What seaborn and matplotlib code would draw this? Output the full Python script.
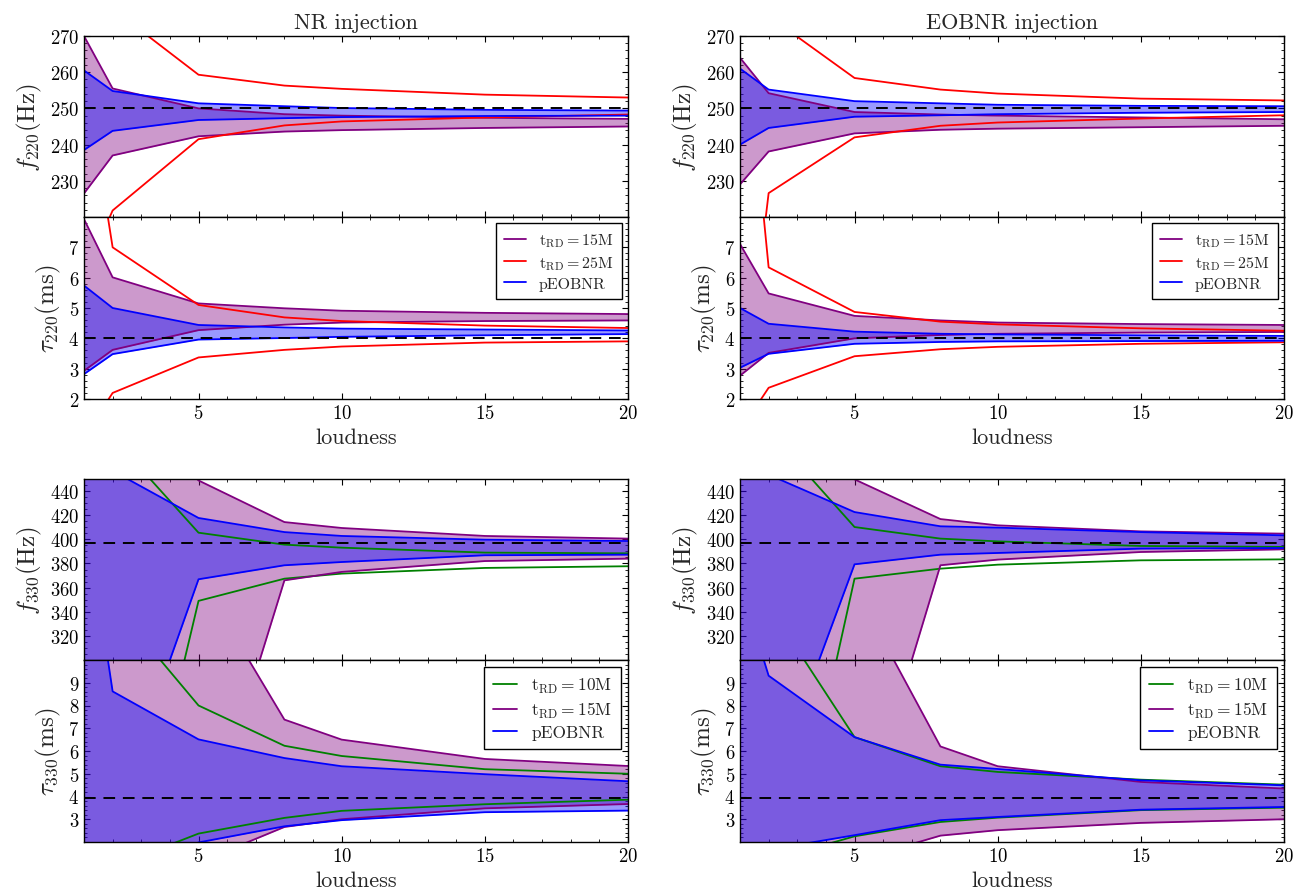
import matplotlib
matplotlib.use('Agg')
import matplotlib.pyplot as plt
import seaborn as sns
from matplotlib.ticker import AutoMinorLocator

loudness = [1, 2, 5, 8, 10, 15, 20]

# NR injection, f_220 (Hz)
nr_f220_15M_hi = [270.0, 255.5, 250.0, 248.4, 248.0, 247.4, 247.1]
nr_f220_15M_lo = [226.5, 237.0, 242.3, 243.6, 244.0, 244.6, 245.0]
nr_f220_25M_hi = [300.0, 277.5, 259.3, 256.3, 255.4, 253.8, 253.0]
nr_f220_25M_lo = [204.0, 221.8, 241.5, 245.3, 246.4, 247.5, 248.3]
nr_f220_peob_hi = [260.5, 254.8, 251.4, 250.6, 250.1, 249.6, 249.4]
nr_f220_peob_lo = [238.5, 243.8, 246.8, 247.3, 247.6, 247.9, 248.0]

# EOBNR injection, f_220 (Hz)
eob_f220_15M_hi = [264.0, 254.2, 249.0, 248.3, 248.0, 247.5, 247.0]
eob_f220_15M_lo = [229.0, 238.1, 243.1, 244.1, 244.4, 244.8, 245.2]
eob_f220_25M_hi = [300.0, 275.5, 258.4, 255.2, 254.1, 252.7, 252.2]
eob_f220_25M_lo = [160.0, 226.6, 242.0, 245.2, 246.1, 247.2, 248.1]
eob_f220_peob_hi = [261.0, 255.2, 252.0, 251.4, 251.0, 250.7, 250.6]
eob_f220_peob_lo = [240.0, 244.6, 247.7, 248.1, 248.4, 248.8, 249.0]

# NR injection, tau_220 (ms)
nr_t220_15M_hi = [7.93, 6.01, 5.15, 4.99, 4.91, 4.84, 4.80]
nr_t220_15M_lo = [2.93, 3.62, 4.27, 4.45, 4.52, 4.57, 4.59]
nr_t220_25M_hi = [13.0, 7.0, 5.1, 4.69, 4.57, 4.42, 4.34]
nr_t220_25M_lo = [0.75, 2.2, 3.37, 3.62, 3.73, 3.86, 3.90]
nr_t220_peob_hi = [5.74, 5.0, 4.44, 4.36, 4.32, 4.29, 4.26]
nr_t220_peob_lo = [2.82, 3.48, 3.96, 4.01, 4.05, 4.10, 4.14]

# EOBNR injection, tau_220 (ms)
eob_t220_15M_hi = [7.11, 5.48, 4.74, 4.59, 4.52, 4.47, 4.44]
eob_t220_15M_lo = [2.77, 3.52, 4.0, 4.11, 4.15, 4.19, 4.21]
eob_t220_25M_hi = [16.0, 6.34, 4.87, 4.55, 4.46, 4.33, 4.25]
eob_t220_25M_lo = [0.95, 2.37, 3.41, 3.64, 3.72, 3.82, 3.87]
eob_t220_peob_hi = [5.0, 4.48, 4.22, 4.15, 4.13, 4.10, 4.08]
eob_t220_peob_lo = [3.03, 3.49, 3.82, 3.88, 3.90, 3.91, 3.92]

# NR injection, f_330 (Hz)
nr_f330_10M_hi = [520.0, 484.5, 405.5, 395.6, 393.1, 389.0, 388.4]
nr_f330_10M_lo = [0.0, 49.0, 349.0, 367.4, 371.6, 376.3, 377.7]
nr_f330_15M_hi = [600.0, 520.0, 448.8, 414.3, 409.4, 402.8, 400.6]
nr_f330_15M_lo = [0.0, 50.0, 136.0, 366.0, 373.0, 382.0, 384.0]
nr_f330_peob_hi = [470.0, 456.8, 417.7, 406.0, 402.8, 399.7, 398.6]
nr_f330_peob_lo = [100.0, 166.0, 366.9, 378.5, 381.2, 386.8, 387.3]

# EOBNR injection, f_330 (Hz)
eob_f330_10M_hi = [520.0, 490.0, 410.2, 400.6, 398.3, 394.5, 393.7]
eob_f330_10M_lo = [0.0, 46.0, 367.4, 375.7, 379.0, 382.6, 383.4]
eob_f330_15M_hi = [550.0, 500.0, 449.7, 416.8, 411.6, 406.6, 404.7]
eob_f330_15M_lo = [0.0, 50.0, 143.0, 378.5, 383.2, 389.5, 391.7]
eob_f330_peob_hi = [465.0, 453.6, 422.6, 410.8, 409.7, 406.0, 403.3]
eob_f330_peob_lo = [120.0, 187.0, 379.3, 387.3, 388.7, 392.3, 392.8]

# NR injection, tau_330 (ms)
nr_t330_10M_hi = [14.0, 12.5, 8.0, 6.23, 5.78, 5.2, 5.0]
nr_t330_10M_lo = [0.5, 0.9, 2.37, 3.06, 3.37, 3.66, 3.86]
nr_t330_15M_hi = [30.0, 25.0, 13.7, 7.38, 6.5, 5.65, 5.34]
nr_t330_15M_lo = [0.0, 0.5, 1.1, 2.66, 3.0, 3.48, 3.67]
nr_t330_peob_hi = [17.0, 8.62, 6.51, 5.69, 5.33, 4.98, 4.67]
nr_t330_peob_lo = [0.0, 0.5, 1.98, 2.69, 2.96, 3.31, 3.38]

# EOBNR injection, tau_330 (ms)
eob_t330_10M_hi = [14.0, 12.4, 6.61, 5.33, 5.08, 4.74, 4.52]
eob_t330_10M_lo = [0.8, 1.17, 2.25, 2.88, 3.07, 3.40, 3.51]
eob_t330_15M_hi = [30.0, 25.0, 13.2, 6.2, 5.33, 4.64, 4.35]
eob_t330_15M_lo = [0.0, 0.5, 1.17, 2.28, 2.52, 2.84, 3.0]
eob_t330_peob_hi = [13.4, 9.31, 6.61, 5.4, 5.21, 4.71, 4.49]
eob_t330_peob_lo = [1.2, 1.66, 2.3, 2.96, 3.1, 3.42, 3.54]

truth_f220 = 250.0
truth_t220 = 4.0
truth_f330 = 397.0
truth_t330 = 3.93

lab_10M = r'$\mathrm{t_{RD}=10M}$'
lab_15M = r'$\mathrm{t_{RD}=15M}$'
lab_25M = r'$\mathrm{t_{RD}=25M}$'
lab_peob = 'pEOBNR'

sns.set_style('ticks')
plt.rcParams.update({
    'font.family': ['cmr10', 'DejaVu Serif'],
    'mathtext.fontset': 'cm',
    'axes.formatter.use_mathtext': True,
    'axes.unicode_minus': False,
    'axes.linewidth': 1.0,
    'axes.edgecolor': 'black',
    'xtick.direction': 'in',
    'ytick.direction': 'in',
    'xtick.top': True,
    'ytick.right': True,
    'xtick.major.size': 4.5,
    'ytick.major.size': 4.5,
    'xtick.minor.size': 2.2,
    'ytick.minor.size': 2.2,
    'xtick.minor.visible': True,
    'ytick.minor.visible': True,
    'xtick.labelsize': 13.5,
    'ytick.labelsize': 13.5,
    'xtick.color': 'black',
    'ytick.color': 'black',
})


def draw_panel(ax, truth, filled, lines, ylim, yticks, ylabel, legend_size=None):
    # filled bands first (purple then blue), lines on top
    for lo, hi, c in filled:
        ax.fill_between(loudness, lo, hi, color=c, alpha=0.4, lw=0)
    handles = []
    for lo, hi, c, lab in lines:
        sns.lineplot(x=loudness, y=hi, color=c, lw=1.3, ax=ax, legend=False)
        handles.append(ax.lines[-1])
        handles[-1].set_label(lab)
        sns.lineplot(x=loudness, y=lo, color=c, lw=1.3, ax=ax, legend=False)
    ax.axhline(truth, color='black', ls='--', lw=1.4, dashes=(6, 4))
    ax.set_xlim(1, 20)
    ax.set_ylim(*ylim)
    ax.set_yticks(yticks)
    ax.set_xticks([5, 10, 15, 20])
    ax.xaxis.set_minor_locator(AutoMinorLocator())
    ax.yaxis.set_minor_locator(AutoMinorLocator())
    ax.set_ylabel(ylabel, fontsize=18, labelpad=4)
    ax.set_xlabel('')
    for s in ax.spines.values():
        s.set_visible(True)
    if ax.get_legend() is not None:
        ax.get_legend().remove()
    if legend_size:
        leg = ax.legend(handles=handles, loc='upper right', fontsize=legend_size,
                        fancybox=False, framealpha=1, edgecolor='black',
                        handlelength=1.4, handletextpad=0.8, labelspacing=0.3,
                        borderpad=0.5, borderaxespad=0.4)
        leg.get_frame().set_linewidth(1.0)


fig = plt.figure(figsize=(13.04, 8.95), dpi=100)
lefts = [84 / 1304, 740 / 1304]
width = 544 / 1304
W, H = 1304, 895


def add(left, top_px, bot_px):
    return fig.add_axes([left, 1 - bot_px / H, width, (bot_px - top_px) / H])


cols = [
    dict(title='NR injection',
         f220=(nr_f220_15M_lo, nr_f220_15M_hi, nr_f220_25M_lo, nr_f220_25M_hi, nr_f220_peob_lo, nr_f220_peob_hi),
         t220=(nr_t220_15M_lo, nr_t220_15M_hi, nr_t220_25M_lo, nr_t220_25M_hi, nr_t220_peob_lo, nr_t220_peob_hi),
         f330=(nr_f330_10M_lo, nr_f330_10M_hi, nr_f330_15M_lo, nr_f330_15M_hi, nr_f330_peob_lo, nr_f330_peob_hi),
         t330=(nr_t330_10M_lo, nr_t330_10M_hi, nr_t330_15M_lo, nr_t330_15M_hi, nr_t330_peob_lo, nr_t330_peob_hi)),
    dict(title='EOBNR injection',
         f220=(eob_f220_15M_lo, eob_f220_15M_hi, eob_f220_25M_lo, eob_f220_25M_hi, eob_f220_peob_lo, eob_f220_peob_hi),
         t220=(eob_t220_15M_lo, eob_t220_15M_hi, eob_t220_25M_lo, eob_t220_25M_hi, eob_t220_peob_lo, eob_t220_peob_hi),
         f330=(eob_f330_10M_lo, eob_f330_10M_hi, eob_f330_15M_lo, eob_f330_15M_hi, eob_f330_peob_lo, eob_f330_peob_hi),
         t330=(eob_t330_10M_lo, eob_t330_10M_hi, eob_t330_15M_lo, eob_t330_15M_hi, eob_t330_peob_lo, eob_t330_peob_hi)),
]

for left, col in zip(lefts, cols):
    ax1 = add(left, 37, 218)
    ax2 = add(left, 218, 400)
    ax3 = add(left, 480, 661)
    ax4 = add(left, 661, 843)

    a15lo, a15hi, a25lo, a25hi, aplo, aphi = col['f220']
    draw_panel(ax1, truth_f220,
               [(a15lo, a15hi, 'purple'), (aplo, aphi, 'blue')],
               [(a15lo, a15hi, 'purple', lab_15M), (a25lo, a25hi, 'red', lab_25M), (aplo, aphi, 'blue', lab_peob)],
               (220, 270), [230, 240, 250, 260, 270], r'$f_{220}(\mathrm{Hz})$')
    ax1.set_title(col['title'], fontsize=16, pad=6)

    b15lo, b15hi, b25lo, b25hi, bplo, bphi = col['t220']
    draw_panel(ax2, truth_t220,
               [(b15lo, b15hi, 'purple'), (bplo, bphi, 'blue')],
               [(b15lo, b15hi, 'purple', lab_15M), (b25lo, b25hi, 'red', lab_25M), (bplo, bphi, 'blue', lab_peob)],
               (2, 8), [2, 3, 4, 5, 6, 7], r'$\tau_{220}(\mathrm{ms})$', legend_size=11.5)

    c10lo, c10hi, c15lo, c15hi, cplo, cphi = col['f330']
    draw_panel(ax3, truth_f330,
               [(c15lo, c15hi, 'purple'), (cplo, cphi, 'blue')],
               [(c10lo, c10hi, 'green', lab_10M), (c15lo, c15hi, 'purple', lab_15M), (cplo, cphi, 'blue', lab_peob)],
               (300, 450), [320, 340, 360, 380, 400, 420, 440], r'$f_{330}(\mathrm{Hz})$')

    d10lo, d10hi, d15lo, d15hi, dplo, dphi = col['t330']
    draw_panel(ax4, truth_t330,
               [(d15lo, d15hi, 'purple'), (dplo, dphi, 'blue')],
               [(d10lo, d10hi, 'green', lab_10M), (d15lo, d15hi, 'purple', lab_15M), (dplo, dphi, 'blue', lab_peob)],
               (2, 10), [3, 4, 5, 6, 7, 8, 9], r'$\tau_{330}(\mathrm{ms})$', legend_size=12.5)

    for ax in (ax1, ax3):
        ax.tick_params(labelbottom=False)
    for ax in (ax2, ax4):
        ax.set_xlabel('loudness', fontsize=16, labelpad=4)

fig.savefig('out.png', dpi=100)
